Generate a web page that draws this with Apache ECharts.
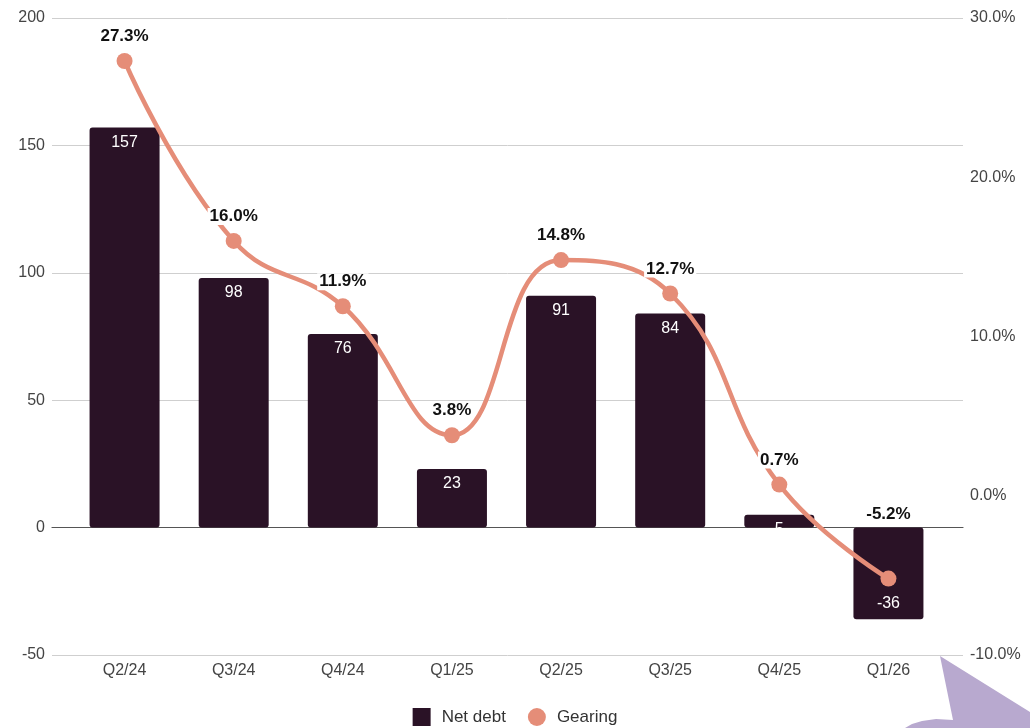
<!DOCTYPE html>
<html>
<head>
<meta charset="utf-8">
<script src="https://cdn.jsdelivr.net/npm/echarts@6/dist/echarts.min.js"></script>
<style>html,body{margin:0;padding:0;background:#fff}#c{width:1030px;height:728px}</style>
</head>
<body>
<div id="c"></div>
<script>
const categories = ['Q2/24','Q3/24','Q4/24','Q1/25','Q2/25','Q3/25','Q4/25','Q1/26'];
const netDebt = [157, 98, 76, 23, 91, 84, 5, -36];
const gearing = [27.3, 16.0, 11.9, 3.8, 14.8, 12.7, 0.7, -5.2];
const leftTicks = {min: -50, max: 200, interval: 50};
const rightTicks = {min: -10, max: 30, interval: 10};

const FONT = 'Arial, "Liberation Sans", Helvetica, sans-serif';
const BAR = '#2a1226';
const LINE = '#e58d78';

const chart = echarts.init(document.getElementById('c'), null, {renderer: 'canvas'});
chart.setOption({
  animation: false,
  backgroundColor: '#fff',
  textStyle: {fontFamily: FONT},
  grid: [
    {left: 52, right: 67, top: 18, bottom: 73},
    {left: 70, right: 87, top: 18, bottom: 73}
  ],
  legend: {
    top: 703, left: 'center',
    itemWidth: 18, itemHeight: 18, itemGap: 22,
    textStyle: {fontFamily: FONT, fontSize: 17, color: '#333', padding: [0, 0, 0, 6]},
    data: [
      {name: 'Net debt', icon: 'rect'},
      {name: 'Gearing', icon: 'circle'}
    ]
  },
  xAxis: [
    {type: 'category', gridIndex: 0, data: categories,
     axisLine: {show: true, onZero: true, onZeroAxisIndex: 0, lineStyle: {color: '#555', width: 1.2}},
     axisTick: {show: false}, axisLabel: {show: false}, splitLine: {show: false}},
    {type: 'category', gridIndex: 1, data: categories,
     axisLine: {show: false}, axisTick: {show: false},
     axisLabel: {color: '#444', fontSize: 16, fontFamily: FONT, margin: 8},
     splitLine: {show: false}}
  ],
  yAxis: [
    {type: 'value', gridIndex: 0, position: 'left', min: leftTicks.min, max: leftTicks.max, interval: leftTicks.interval,
     axisLine: {show: false}, axisTick: {show: false},
     axisLabel: {color: '#444', fontSize: 16, fontFamily: FONT, margin: 7},
     splitLine: {show: true, lineStyle: {color: '#cfcfcf', width: 1}}},
    {type: 'value', gridIndex: 0, position: 'right', min: rightTicks.min, max: rightTicks.max, interval: rightTicks.interval,
     axisLine: {show: false}, axisTick: {show: false},
     axisLabel: {color: '#444', fontSize: 16, fontFamily: FONT, margin: 7, formatter: v => v.toFixed(1) + '%'},
     splitLine: {show: false}},
    {type: 'value', gridIndex: 1, min: leftTicks.min, max: leftTicks.max, interval: leftTicks.interval, show: false, splitLine: {show: false}},
    {type: 'value', gridIndex: 1, min: rightTicks.min, max: rightTicks.max, interval: rightTicks.interval, show: false, splitLine: {show: false}}
  ],
  series: [
    {
      name: 'Net debt', type: 'bar', xAxisIndex: 1, yAxisIndex: 2,
      barWidth: 70,
      itemStyle: {color: BAR, borderRadius: 3},
      label: {show: true, position: 'insideTop', distance: 7, color: '#fff', fontSize: 16, fontFamily: FONT},
      data: netDebt.map(v => v < 0 ? {value: v, label: {position: 'insideBottom', distance: 8}} : v),
      z: 2
    },
    {
      name: 'Gearing', type: 'line', xAxisIndex: 1, yAxisIndex: 3,
      smooth: 0.45,
      symbol: 'circle', symbolSize: 16,
      lineStyle: {color: LINE, width: 4.5},
      itemStyle: {color: LINE},
      label: {show: true, position: 'top', distance: 8, color: '#111', fontWeight: 'bold', fontSize: 17, fontFamily: FONT,
              backgroundColor: '#fff', padding: [0, 2], formatter: p => p.value.toFixed(1) + '%'},
      data: gearing.map(v => v < 0 ? {value: v, label: {distance: 48}} : v),
      z: 3
    }
  ],
  graphic: [
    {type: 'polygon', z: 100,
     shape: {points: [[940,656],[1030,712],[1030,728],[905,728],[912,724],[922,721],[936,719],[953,720]]},
     style: {fill: '#b8a9cf'}}
  ]
});
</script>
</body>
</html>
